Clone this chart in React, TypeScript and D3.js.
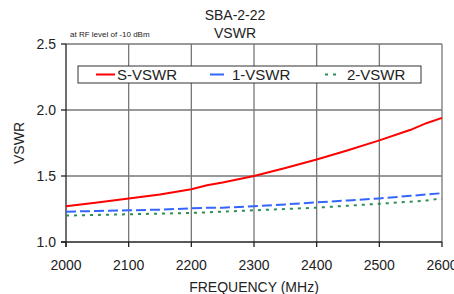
import React from "react";
import * as d3 from "d3";

const freqs = [2000, 2050, 2100, 2150, 2200, 2225, 2250, 2300, 2350, 2400, 2450, 2500, 2550, 2575, 2600];
const sVswr = [1.27, 1.30, 1.33, 1.36, 1.40, 1.43, 1.45, 1.50, 1.56, 1.625, 1.695, 1.77, 1.85, 1.90, 1.94];
const vswr1 = [1.23, 1.235, 1.24, 1.245, 1.255, 1.26, 1.26, 1.27, 1.285, 1.30, 1.315, 1.33, 1.35, 1.36, 1.37];
const vswr2 = [1.20, 1.205, 1.21, 1.215, 1.22, 1.225, 1.23, 1.24, 1.25, 1.26, 1.275, 1.29, 1.305, 1.315, 1.33];
const xTicks = [2000, 2100, 2200, 2300, 2400, 2500, 2600];
const yTicks = [1.0, 1.5, 2.0, 2.5];
const seriesNames = ["S-VSWR", "1-VSWR", "2-VSWR"];

export default function App() {
  const W = 454, H = 294;
  const x = d3.scaleLinear().domain([2000, 2600]).range([66, 442]);
  const y = d3.scaleLinear().domain([1.0, 2.5]).range([242, 44]);
  const font = "'Liberation Sans', Arial, sans-serif";
  const line = (vals: number[]) =>
    d3.line<number>().x((_, i) => x(freqs[i])).y((v) => y(v))(vals) || "";
  const series = [
    { vals: sVswr, color: "#ff0000", dash: "none" },
    { vals: vswr1, color: "#3366ff", dash: "10,4" },
    { vals: vswr2, color: "#2e8b57", dash: "3,5" },
  ];
  const legend = [
    { lx: 96, len: 19, dash: "none", tx: 117 },
    { lx: 210, len: 14, dash: "none", tx: 232 },
    { lx: 325, len: 11, dash: "3,5", tx: 347 },
  ];
  return (
    <svg width={W} height={H} style={{ position: "absolute", left: 0, top: 0 }} fontFamily={font}>
      <rect width={W} height={H} fill="#fff" />
      {xTicks.slice(1).map((t) => (
        <line key={"vx" + t} x1={x(t)} x2={x(t)} y1={y(2.5)} y2={y(1.0)} stroke="#777" strokeWidth={1.3} />
      ))}
      {yTicks.slice(1).map((t) => (
        <line key={"hy" + t} x1={x(2000)} x2={x(2600)} y1={y(t)} y2={y(t)} stroke="#777" strokeWidth={1.3} />
      ))}
      <line x1={x(2000)} x2={x(2000)} y1={y(2.5)} y2={y(1.0) + 5} stroke="#222" strokeWidth={1.3} />
      <line x1={x(2000) - 5} x2={x(2600)} y1={y(1.0)} y2={y(1.0)} stroke="#222" strokeWidth={1.3} />
      {yTicks.map((t) => (
        <g key={"yt" + t}>
          <line x1={x(2000) - 5} x2={x(2000)} y1={y(t)} y2={y(t)} stroke="#222" strokeWidth={1.3} />
          <text x={x(2000) - 10} y={y(t)} dy="0.35em" textAnchor="end" fontSize={14} fill="#222">
            {t.toFixed(1)}
          </text>
        </g>
      ))}
      {xTicks.map((t) => (
        <g key={"xt" + t}>
          <line x1={x(t)} x2={x(t)} y1={y(1.0)} y2={y(1.0) + 5} stroke="#222" strokeWidth={1.3} />
          <text x={x(t)} y={y(1.0) + 28} textAnchor="middle" fontSize={14} fill="#222">
            {t}
          </text>
        </g>
      ))}
      {series.map((s, i) => (
        <path key={i} d={line(s.vals)} fill="none" stroke={s.color} strokeWidth={2} strokeDasharray={s.dash} />
      ))}
      <rect x={78} y={66} width={343} height={17} fill="#fff" stroke="#333" strokeWidth={1} />
      {series.map((s, i) => {
        const l = legend[i];
        return (
          <g key={"lg" + i}>
            <line x1={l.lx} x2={l.lx + l.len} y1={74.5} y2={74.5} stroke={s.color} strokeWidth={2} strokeDasharray={l.dash} />
            <text x={l.tx} y={74.5} dy="0.36em" fontSize={15} fill="#222">
              {seriesNames[i]}
            </text>
          </g>
        );
      })}
      <text x={235} y={20} textAnchor="middle" fontSize={14} fill="#222">SBA-2-22</text>
      <text x={235} y={38} textAnchor="middle" fontSize={14} fill="#222">VSWR</text>
      <text x={70} y={37} fontSize={8} fill="#222">at RF level of -10 dBm</text>
      <text transform={`translate(24,143) rotate(-90)`} textAnchor="middle" fontSize={14} fill="#222">VSWR</text>
      <text x={254} y={292} textAnchor="middle" fontSize={14} fill="#222">FREQUENCY (MHz)</text>
    </svg>
  );
}
